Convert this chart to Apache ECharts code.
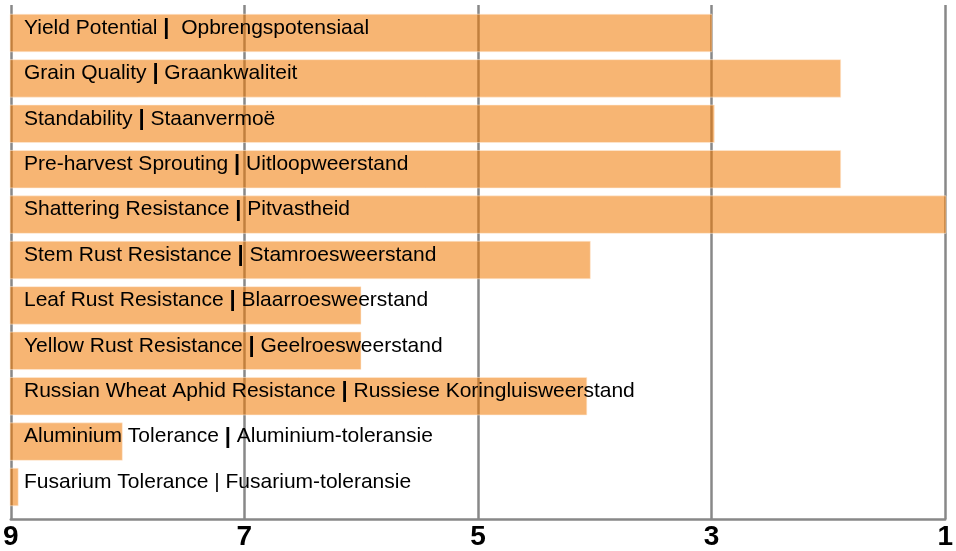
<!DOCTYPE html>
<html>
<head>
<meta charset="utf-8">
<script src="https://cdn.jsdelivr.net/npm/echarts@6/dist/echarts.min.js"></script>
<style>
  html, body { margin: 0; padding: 0; background: #fff; }
  #chart { width: 956px; height: 551px; }
</style>
</head>
<body>
<div id="chart"></div>
<script>
// ---- data ----
const categoriesEn = [
  'Yield Potential', 'Grain Quality', 'Standability', 'Pre-harvest Sprouting',
  'Shattering Resistance', 'Stem Rust Resistance', 'Leaf Rust Resistance',
  'Yellow Rust Resistance', 'Russian Wheat Aphid Resistance',
  'Aluminium Tolerance', 'Fusarium Tolerance'
];
const categoriesAf = [
  ' Opbrengspotensiaal', 'Graankwaliteit', 'Staanvermoë', 'Uitloopweerstand',
  'Pitvastheid', 'Stamroesweerstand', 'Blaarroesweerstand',
  'Geelroesweerstand', 'Russiese Koringluisweerstand',
  'Aluminium-toleransie', 'Fusarium-toleransie'
];
const ratings = [3, 1.9, 2.98, 1.9, 1.0, 4.04, 6.0, 6.0, 4.07, 8.04, 8.93];
const tickValues = [1, 3, 5, 7, 9];
const scaleStart = 9;
const scaleEnd = 1;

// ---- chart ----
const chart = echarts.init(document.getElementById('chart'), null, { renderer: 'canvas' });
const gridColor = '#888888';
const font = '"Liberation Sans", Arial, Helvetica, sans-serif';
const lastIndex = categoriesEn.length - 1;

const option = {
  animation: false,
  backgroundColor: '#ffffff',
  grid: [
    { left: 10, right: 10, top: 5, height: 515, containLabel: false },
    { left: 10, right: 10, top: 10.3, height: 499.4, containLabel: false }
  ],
  xAxis: [
    {
      gridIndex: 0, type: 'value', inverse: true,
      min: scaleEnd, max: scaleStart,
      axisLine: { show: true, lineStyle: { color: gridColor, width: 2.5 } },
      axisTick: { show: false, customValues: tickValues },
      axisLabel: {
        customValues: tickValues,
        color: '#000', fontSize: 28, fontWeight: 'bold', fontFamily: font,
        margin: 4, showMinLabel: true, showMaxLabel: true
      },
      splitLine: { show: true, lineStyle: { color: gridColor, width: 2.5 } }
    },
    {
      gridIndex: 1, type: 'value', inverse: true,
      min: scaleEnd, max: scaleStart, show: false,
      splitLine: { show: false }
    }
  ],
  yAxis: [
    { gridIndex: 0, type: 'value', min: 0, max: 1, show: false, splitLine: { show: false } },
    {
      gridIndex: 1, type: 'category', inverse: true, show: false,
      data: categoriesEn
    }
  ],
  series: [
    {
      type: 'custom',
      xAxisIndex: 1, yAxisIndex: 1,
      encode: { x: 0, y: 1 },
      data: ratings.map((v, i) => [v, i]),
      z: 5,
      renderItem: function (params, api) {
        const idx = api.value(1);
        const val = api.value(0);
        const p0 = api.coord([scaleStart, idx]);
        const p1 = api.coord([val, idx]);
        const band = api.size([0, 1])[1];
        const h = band * 0.826;
        const pipeStyle = idx === lastIndex ? 'n' : 'p';
        const text = '{n|' + categoriesEn[idx] + ' }{' + pipeStyle + '||}{n| ' + categoriesAf[idx] + '}';
        return {
          type: 'group',
          children: [
            {
              type: 'rect',
              shape: { x: p0[0], y: p1[1] - h / 2, width: p1[0] - p0[0], height: h },
              style: {
                fill: 'rgba(240,120,0,0.55)',
                stroke: 'rgba(255,235,215,0.55)',
                lineWidth: 1
              }
            },
            {
              type: 'text',
              z2: 10,
              style: {
                x: p0[0] + 14,
                y: p1[1] - 5,
                text: text,
                verticalAlign: 'middle',
                align: 'left',
                fill: '#000',
                rich: {
                  n: { fontSize: 21, fontFamily: font, fill: '#000', color: '#000' },
                  p: { fontSize: 22, fontWeight: 'bold', fontFamily: font, fill: '#000', color: '#000' }
                }
              }
            }
          ]
        };
      }
    }
  ]
};
chart.setOption(option);
</script>
</body>
</html>
